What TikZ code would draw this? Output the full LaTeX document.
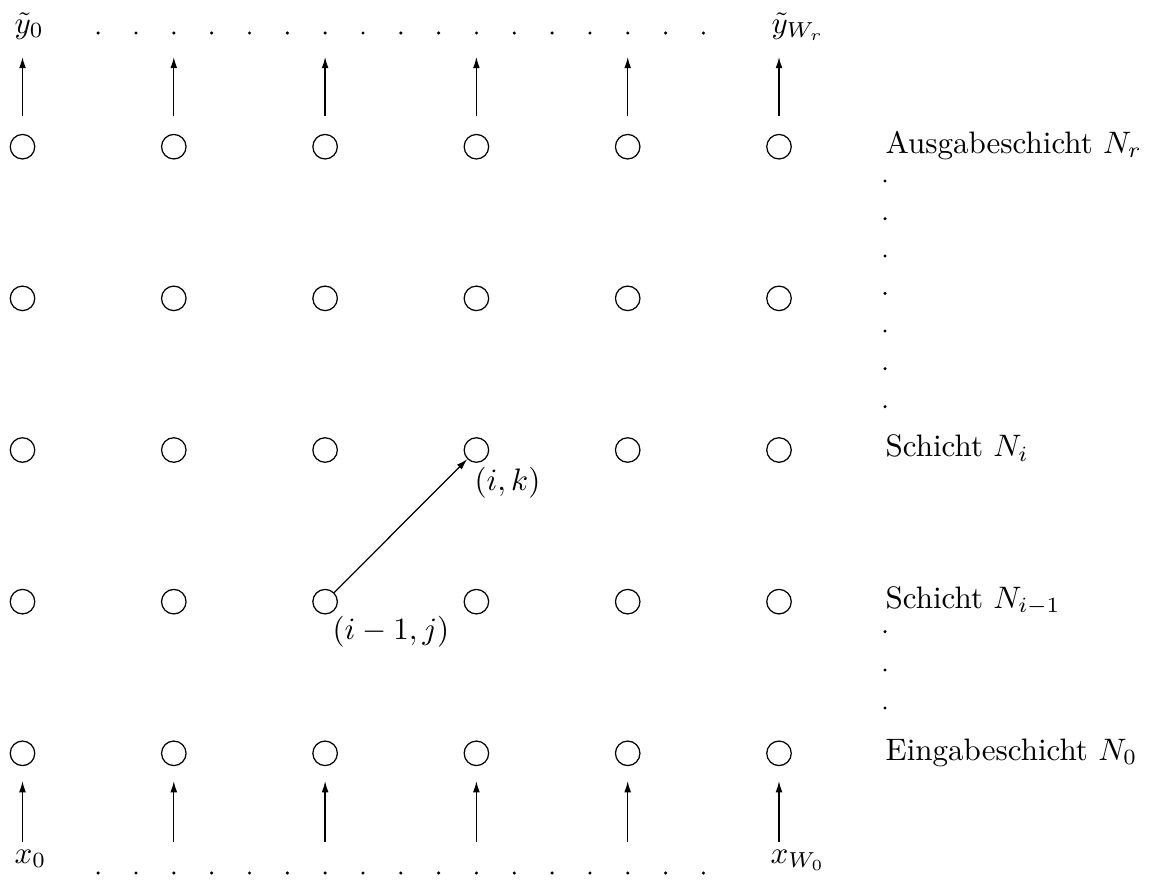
\documentclass[tikz,border=0pt]{standalone}
\usetikzlibrary{arrows.meta}
\begin{document}
\begin{tikzpicture}[x=0.3222pt,y=-0.3222pt,
  neuron/.style={circle,draw,line width=0.4pt,inner sep=0pt,minimum size=7.9pt},
  vec/.style={line width=0.4pt,-{Latex[length=3.6pt,width=2.2pt]}},
  lbl/.style={inner sep=0pt,anchor=base west},
  dotmark/.style={fill=black}]
\useasboundingbox (0,0) rectangle (1151,887);

% grid of neurons: row 0 = input layer, row 4 = output layer
\foreach \r in {0,...,4}
  \foreach \c in {0,...,5}
    \node[neuron] (n\r\c) at ({22.5+151.3*\c},{753.3-151.65*\r}) {};

% input and output arrows
\foreach \c in {0,...,5}{
  \coordinate (in\c) at ({22.5+151.3*\c},841.7);
  \coordinate (out\c) at ({22.5+151.3*\c},57);
  \draw[vec,shorten >=4.8pt] (in\c) -- (n0\c);
  \draw[vec,shorten <=5.9pt] (n4\c) -- (out\c);
}

% dotted rows of outputs and inputs
\foreach \k in {2,...,18}{
  \fill[dotmark] ({22.5+37.83*\k},33) circle (0.55pt);
  \fill[dotmark] ({22.5+37.83*\k},873) circle (0.55pt);
}

% dots between the layer names
\foreach \y in {181,218.7,256,293.3,331,368.7,406.7,631.7,670,708}
  \fill[dotmark] (885,\y) circle (0.55pt);

% output and input labels
\node[lbl] (y0) at (14,33) {$\tilde{y}_0$};
\node[lbl] (yW) at (771,33) {$\tilde{y}_{W_r}$};
\node[lbl] (x0) at (14,863) {$x_0$};
\node[lbl] (xW) at (770,863) {$x_{W_0}$};

% layer names
\node[lbl] (Lout) at (885,153) {Ausgabeschicht $N_r$};
\node[lbl] (Li) at (885,456.7) {Schicht $N_i$};
\node[lbl] (Lim) at (885,608) {Schicht $N_{i-1}$};
\node[lbl] (Lin) at (885,760) {Eingabeschicht $N_0$};

% one weighted connection
\draw[vec] (n12) -- (n23);
\node[lbl] (ik) at (474,490) {$(i,k)$};
\node[lbl] (ij) at (332,639) {$(i-1,j)$};
\end{tikzpicture}
\end{document}
